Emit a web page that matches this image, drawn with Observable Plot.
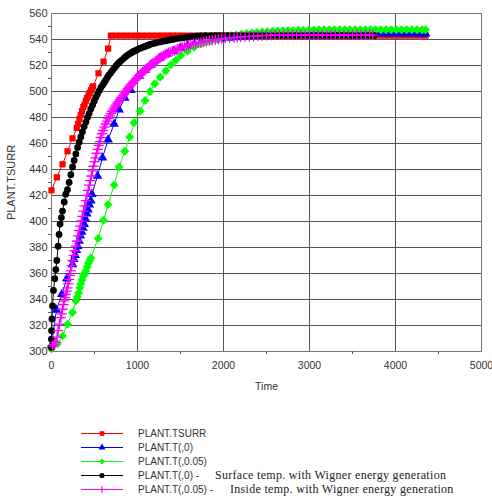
<!DOCTYPE html>
<html><head><meta charset="utf-8">
<script src="https://cdn.jsdelivr.net/npm/d3@7"></script>
<script src="https://cdn.jsdelivr.net/npm/@observablehq/plot@0.6"></script>
<style>
body{margin:0;background:#fff;width:492px;height:498px;position:relative;overflow:hidden;font-family:"Liberation Sans",Arial,sans-serif}
#chart{position:absolute;left:0;top:0}
#legend{position:absolute;left:81px;top:426px;width:411px}
.row{position:relative;height:14px;display:flex;align-items:center;font-size:10px;color:#333;white-space:pre}
.row svg{flex:none;display:block}
.serif{position:absolute;top:0;line-height:14px;font-family:"Liberation Serif","Times New Roman",serif;font-size:12px;letter-spacing:0.3px;color:#222}
</style></head><body>
<div id="chart"></div><div id="legend"></div>
<script>
const xTicks = [0,1000,2000,3000,4000,5000];
const xMinor = [500,1500,2500,3500,4500];
const yTicks = [300,320,340,360,380,400,420,440,460,480,500,520,540,560];
const yMinor = [310,330,350,370,390,410,430,450,470,490,510,530,550];

const tsurr = [[0,424],[62,434],[128,444],[186,454],[244,464],[294,472],[310,475],[325,479],[340,482],[355,485],[370,488],[385,490],[400,493],[415,495],[430,497],[445,499],[460,501],[475,503],[484,504],[546,514],[605,523],[658,533],[690,543],
[750,543],[810,543],[870,543],[930,543],[990,543],[1050,543],[1110,543],[1170,543],[1230,543],[1290,543],[1350,543],[1410,543],[1470,543],[1530,543],[1590,543],[1650,543],[1710,543],[1770,543],[1830,543],[1890,543],[1950,543],[2010,543],[2070,543],[2130,543],[2190,543],[2250,543],[2310,543],[2370,543],[2430,543],[2490,543],[2550,543],[2610,543],[2670,543],[2730,543],[2790,543],[2850,543],[2910,543],[2970,543],[3030,543],[3090,543],[3150,543],[3210,543],[3270,543],[3330,543],[3390,543],[3450,543],[3510,543],[3570,543],[3630,543],[3690,543],[3750,543],[3810,543],[3870,543],[3930,543],[3990,543],[4050,543],[4110,543],[4170,543],[4230,543],[4290,543],[4350,543]];

const t0 = [[0,305],[58,332],[120,344],[178,356],[244,367],[260,371],[275,374],[290,378],[305,381],[321,385],[335,389],[350,392],[365,395],[380,398],[395,402],[410,406],[425,409],[440,413],[457,416],[470,421],[535,435],[593,449],[658,463],[728,475],[786,486],[852,495],[922,501],[1019,512],[1090,516.5],[1160,520.6],[1263,525.8],[1340,528.8],[1420,531],[1500,533.6],[1580,535.3],[1660,536.7],[1740,537.8],[1820,538.9],[1900,539.8],[1980,540.6],[2060,541.1],[2140,541.6],[2220,542.1],[2300,542.4],[2380,542.8],[2460,543.1],
[2520,543.4],[2580,543.6],[2640,543.8],[2700,544],[2760,544.1],[2820,544.2],[2880,544.3],[2940,544.4],[3000,544.5],[3060,544.5],[3120,544.5],[3180,544.5],[3240,544.5],[3300,544.5],[3360,544.5],[3420,544.5],[3480,544.5],[3540,544.5],[3600,544.5],[3660,544.5],[3720,544.5],[3780,544.5],[3840,544.5],[3900,544.5],[3960,544.5],[4020,544.5],[4080,544.5],[4140,544.5],[4200,544.5],[4260,544.5],[4320,544.5],[4350,544.5]];

const t005 = [[0,302],[70,306],[128,312],[186,321],[244,330],[283,339],[300,342],[315,345],[330,349],[341,352],[355,355],[370,358],[385,360],[399,362],[415,365],[430,368],[445,370],[457,372],[542,387],[605,401],[658,413],[728,428],[786,442],[852,454],[910,465],[960,476],[1030,485],[1088,493],[1147,500],[1201,506],[1263,511],[1329,516],[1387,520.5],[1445,524],[1503,527.5],[1581,531],[1658,534],[1736,536.5],[1800,538],[1852,539],[1910,540.3],[1968,541.5],[2030,542.3],[2090,543],[2150,543.6],[2210,544.2],[2270,544.7],[2330,545.1],[2390,545.5],[2450,545.8],[2510,546.1],[2570,546.3],[2630,546.5],[2690,546.7],[2750,546.9],[2810,547],[2870,547.1],[2930,547.2],[2990,547.3],[3050,547.4],
[3110,547.5],[3170,547.5],[3230,547.5],[3290,547.5],[3350,547.5],[3410,547.5],[3470,547.5],[3530,547.5],[3590,547.5],[3650,547.5],[3710,547.5],[3770,547.5],[3830,547.5],[3890,547.5],[3950,547.5],[4010,547.5],[4070,547.5],[4130,547.5],[4190,547.5],[4250,547.5],[4310,547.5],[4350,547.5]];

const t0W = [[0,303],[0,309.5],[1,316],[5,325],[12,335],[23,347],[38,356],[50,363],[62,370],[77,381],[88,390],[100,398],[115,403],[128,408],[148,415],[166,421],[186,424.5],[205,430],[225,436],[245,442],[263,447],[283,452],[303,457],[322,461],[341,465],[360,469],[380,473],[400,476.5],[418,480],[437,483],[457,486.5],[477,489.5],[496,492.5],[515,495.5],[535,498],[555,500.5],[575,503],[595,505],[615,507],[633,509],[651,511],[670,512.8],[690,514.5],[710,516.3],[730,518],[748,519.5],[767,521],[790,522.5],[815,524],[840,525.5],[865,527],[890,528.2],[915,529.3],[938,530.2],[960,531],[985,531.8],[1010,532.6],[1035,533.3],[1060,534],[1085,534.6],[1110,535.2],[1132,535.8],[1155,536.5],[1190,537],[1225,537.6],[1260,538.1],[1295,538.6],[1330,539.1],[1365,539.5],[1400,540],[1426,540.3],[1470,540.8],[1515,541.2],[1560,541.6],[1605,542],[1650,542.3],[1695,542.6],[1736,542.8],[1790,543],
[1850,543],[1900,543],[1950,543],[2000,543],[2050,543],[2100,543],[2150,543],[2200,543],[2250,543],[2300,543],[2350,543],[2400,543],[2450,543],[2500,543],[2550,543],[2600,543],[2650,543],[2700,543],[2750,543],[2800,543],[2850,543],[2900,543],[2950,543],[3000,543],[3050,543],[3100,543],[3150,543],[3200,543],[3250,543],[3300,543],[3350,543],[3400,543],[3450,543],[3500,543],[3550,543],[3600,543],[3650,543],[3700,543],[3750,543]];

const t005W = [[12,304.4],[30,305.5],[50,307],[65,311],[77,316],[92,321],[108,326],[118,329],[128,332.5],[138,336],[147,339],[157,341.5],[167,344],[176,346.5],[186,349],[195,352],[205,355.5],[214,358.5],[224,362],[235,366],[247,370],[259,374],[271,377.5],[283,381],[296,385],[308,389],[321,393],[333,396.5],[346,400.5],[359,404],[372,408],[385,412],[399,416],[412,420],[426,424],[439,428],[452,431.5],[464,435],[477,439],[488,442.5],[500,446],[512,449],[525,452.5],[537,455.5],[550,458.5],[561,461.5],[573,464.6],[586,467.5],[600,470],[615,472.6],[630,475],[645,477.2],[660,479.3],[675,481.2],[690,483],[705,484.8],[720,486.5],[735,488],[750,489.5],[765,491],[780,492.3],[795,493.8],[810,495.2],[827,496.6],[844,498],[860,499.5],[875,501],[890,502.3],[905,503.5],[920,504.8],[935,506],[952,507.3],[968,508.5],[984,509.7],[1000,510.8],[1015,512],[1030,513],[1045,514],[1060,515],[1078,516],[1095,517],[1112,518],[1130,519],[1145,519.9],[1160,520.8],[1177,521.5],[1193,522.3],[1212,523.3],[1230,524.3],[1248,525.2],[1265,526],[1283,526.8],[1300,527.5],[1320,528.3],[1340,529],[1360,529.7],[1380,530.3],[1403,530.8],[1426,531.3],[1448,532.1],[1470,532.8],[1495,533.4],[1520,534],[1545,534.6],[1570,535.2],[1595,535.7],[1620,536.2],[1650,536.6],[1680,537],[1708,537.4],[1736,537.7],[1768,538.2],[1800,538.7],[1835,539.1],[1870,539.5],[1905,539.9],[1940,540.3],[1980,540.7],[2020,541],[2070,541.3],[2123,541.5],[2160,541.8],[2200,542],[2250,542.2],[2300,542.4],[2350,542.6],[2400,542.8],[2450,543],[2500,543.2],[2550,543.4],
[2600,543.5],[2650,543.5],[2700,543.5],[2750,543.5],[2800,543.5],[2850,543.5],[2900,543.5],[2950,543.5],[3000,543.5],[3050,543.5],[3100,543.5],[3150,543.5],[3200,543.5],[3250,543.5],[3300,543.5],[3350,543.5],[3400,543.5],[3450,543.5],[3500,543.5],[3550,543.5],[3600,543.5],[3650,543.5],[3700,543.5],[3735,543.5]];

const seriesNames = ["PLANT.TSURR","PLANT.T(,0)","PLANT.T(,0.05)","PLANT.T(,0) -","PLANT.T(,0.05) -"];
const seriesNotes = ["","","","Surface temp. with Wigner energy generation","Inside temp. with Wigner energy generation"];
const noteOffsets = [0,0,0,134,149];
const seriesColors = ["#ff0000","#0000ff","#00ff00","#000000","#ff00ff"];
const seriesSymbols = ["square","triangle","diamond2","circle","plus"];
const seriesData = [tsurr, t0, t005, t0W, t005W];
const seriesR = [3.5,3.6,4,3.4,3.4];

const X = d => d[0], Y = d => d[1];
const seriesMarks = seriesData.flatMap((data, i) => [
  Plot.line(data, {x: X, y: Y, stroke: seriesColors[i], strokeWidth: 1}),
  seriesSymbols[i] === "plus"
    ? Plot.dot(data, {x: X, y: Y, symbol: "plus", stroke: seriesColors[i], strokeWidth: 1.3, r: seriesR[i]})
    : Plot.dot(data, {x: X, y: Y, symbol: seriesSymbols[i], fill: seriesColors[i], stroke: "none", r: seriesR[i]})
]);

const chart = Plot.plot({
  width: 492, height: 400,
  marginLeft: 51, marginRight: 11, marginTop: 13, marginBottom: 49,
  x: {domain: [0, 5000]},
  y: {domain: [300, 560]},
  style: {fontFamily: "'Liberation Sans', Arial, sans-serif", fontSize: "10.5px", color: "#333", background: "#fff", overflow: "visible"},
  marks: [
    Plot.gridY(yTicks, {stroke: "#555", strokeOpacity: 1}),
    Plot.gridX(xTicks, {stroke: "#555", strokeOpacity: 1}),
    Plot.frame({stroke: "#777"}),
    Plot.axisY(yMinor, {tickSize: 3, tickFormat: () => "", stroke: "#555", label: null}),
    Plot.axisY(yTicks, {tickSize: 0, tickPadding: 4, tickFormat: d => String(d), fontSize: 11, label: "PLANT.TSURR", labelAnchor: "center", labelArrow: "none", labelOffset: 44}),
    Plot.axisX(xMinor, {tickSize: 3, tickFormat: () => "", stroke: "#555", label: null}),
    Plot.axisX(xTicks, {tickSize: 0, tickPadding: 10, tickFormat: d => String(d), label: "Time", labelAnchor: "center", labelArrow: "none", labelOffset: 38}),
    ...seriesMarks
  ]
});
document.getElementById("chart").appendChild(chart);

const symbolMap = {square: d3.symbolSquare, triangle: d3.symbolTriangle, diamond2: d3.symbolDiamond2, circle: d3.symbolCircle, plus: d3.symbolPlus};
const legend = d3.select("#legend");
seriesNames.forEach((name, i) => {
  const row = legend.append("div").attr("class", "row");
  const svg = row.append("svg").attr("width", 57).attr("height", 14);
  svg.append("line").attr("x1", 0).attr("x2", 42).attr("y1", 7.5).attr("y2", 7.5).attr("stroke", seriesColors[i]).attr("stroke-width", 1);
  const r = i === 4 ? 2.2 : 2.6;
  const p = svg.append("path").attr("transform", "translate(21,7.5)").attr("d", d3.symbol(symbolMap[seriesSymbols[i]], r * r * Math.PI)());
  if (seriesSymbols[i] === "plus") p.attr("fill", "none").attr("stroke", seriesColors[i]).attr("stroke-width", 1.2);
  else p.attr("fill", seriesColors[i]);
  row.append("span").text(name);
  if (seriesNotes[i]) row.append("span").attr("class", "serif").style("left", noteOffsets[i] + "px").text(seriesNotes[i]);
});
</script></body></html>
